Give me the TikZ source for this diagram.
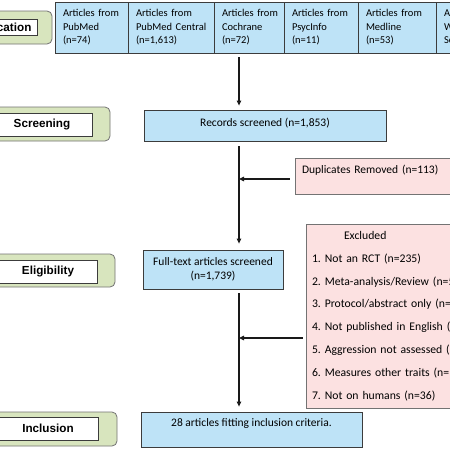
\documentclass[tikz,border=0pt]{standalone}
\usepackage{fontspec}
\setmainfont{Carlito}
\newfontfamily\labelfont{Liberation Sans}
\usetikzlibrary{arrows.meta}
\definecolor{boxblue}{RGB}{190,227,247}
\definecolor{boxpink}{RGB}{252,225,225}
\definecolor{boxgreen}{RGB}{216,229,190}
\definecolor{edgedark}{RGB}{60,60,60}
\definecolor{edgegray}{RGB}{115,115,115}
\tikzset{
  bluebox/.style={draw=edgedark, fill=boxblue, line width=0.8pt, inner sep=0pt,
    font=\fontsize{11.5}{14.5}\selectfont},
  srcbox/.style={bluebox, align=left, minimum height=51pt,
    font=\fontsize{10.5}{13.5}\selectfont},
  pinkbox/.style={draw=edgegray, fill=boxpink, line width=0.8pt, inner sep=0pt,
    font=\fontsize{11.5}{14.5}\selectfont},
  greenbox/.style={draw=edgegray, fill=boxgreen, line width=0.8pt, rounded corners=5pt},
  whitebox/.style={draw=edgedark, fill=white, line width=1pt, inner sep=0pt,
    font=\labelfont\bfseries\fontsize{11.7}{13}\selectfont},
  conn/.style={draw=black!90, line width=1.1pt},
  arr/.style={conn, -{Triangle[length=5pt,width=4.5pt]}},
}
\begin{document}
\begin{tikzpicture}[x=1pt,y=-1pt]
\useasboundingbox (0,0) rectangle (450,450);
\clip (0,0) rectangle (450,450);
\fill[white] (0,0) rectangle (450,450);

% source boxes
\node[srcbox, minimum width=73pt, text width=57pt] (t1) at (91.5,27.5) {\mbox{Articles from}\\PubMed\\(n=74)};
\node[srcbox, minimum width=86pt, text width=70pt] (t2) at (171,27.5) {\mbox{Articles from}\\\mbox{PubMed Central}\\(n=1,613)};
\node[srcbox, minimum width=70pt, text width=54pt] (t3) at (249,27.5) {\mbox{Articles from}\\Cochrane\\(n=72)};
\node[srcbox, minimum width=74pt, text width=58pt] (t4) at (321,27.5) {\mbox{Articles from}\\PsycInfo\\(n=11)};
\node[srcbox, minimum width=78pt, text width=62pt] (t5) at (397,27.5) {\mbox{Articles from}\\Medline\\(n=53)};
\node[srcbox, minimum width=80pt, text width=64pt] (t6) at (476,27.5) {\mbox{Articles from}\\\mbox{Web of}\\\mbox{Science (n=30)}};

% main flow boxes
\node[bluebox, minimum width=242pt, minimum height=31pt, text height=8pt, text depth=7pt] (rec) at (265,125.5) {Records screened (n=1,853)};
\node[pinkbox, minimum width=210pt, minimum height=36pt, text width=196pt, align=left, text height=8pt, text depth=14pt] (dup) at (400,176) {Duplicates Removed (n=113)};
\node[bluebox, minimum width=140pt, minimum height=39pt, align=center] (ft) at (213,269.5) {Full-text articles screened\\(n=1,739)};
\node[pinkbox, minimum width=214pt, minimum height=184pt, text width=202pt, align=left,
  font=\frenchspacing\fontsize{11.7}{22.8}\selectfont] (excl) at (413,316)
  {\hspace*{32pt}Excluded\\
   1. Not an RCT (n=235)\\
   2. Meta-analysis/Review (n=520)\\
   3. Protocol/abstract only (n=150)\\
   4. Not published in English (n=60)\\
   5. Aggression not assessed (n=560)\\
   6. Measures other traits (n=150)\\
   7. Not on humans (n=36)};
\node[bluebox, minimum width=221pt, minimum height=35pt, text height=8pt, text depth=14pt] (inc) at (251.5,429.5) {28 articles fitting inclusion criteria.};

% stage labels
\node[greenbox, minimum width=117pt, minimum height=33pt] (gid) at (-6.5,27.5) {};
\node[whitebox, minimum width=84pt, minimum height=16pt] (wid) at (-5,27) {Identification};
\node[greenbox, minimum width=136pt, minimum height=34pt] (gsc) at (42,124) {};
\node[whitebox, minimum width=100pt, minimum height=23pt] (wsc) at (42,124.5) {Screening};
\node[greenbox, minimum width=134pt, minimum height=33pt] (gel) at (48,270.5) {};
\node[whitebox, minimum width=98pt, minimum height=23pt] (wel) at (48,271.5) {Eligibility};
\node[greenbox, minimum width=138pt, minimum height=34pt] (gin) at (48,429) {};
\node[whitebox, minimum width=100pt, minimum height=23pt] (win) at (48,428.5) {Inclusion};

% connectors
\coordinate (spine) at (239,0);
\coordinate (dupout) at ([yshift=-3pt]dup.west);
\coordinate (exclout) at ([yshift=-22pt]excl.west);
\draw[arr, shorten <=4pt, shorten >=4pt] (spine |- t3.south) -- (spine |- rec.north);
\draw[arr, shorten <=5pt, shorten >=6pt] (spine |- rec.south) -- (spine |- ft.north);
\draw[arr, shorten <=4pt, shorten >=5pt] (spine |- ft.south) -- (spine |- inc.north);
\draw[arr, shorten <=5pt] (dupout) -- (spine |- dupout);
\draw[arr, shorten <=3pt] (exclout) -- (spine |- exclout);
\end{tikzpicture}
\end{document}
